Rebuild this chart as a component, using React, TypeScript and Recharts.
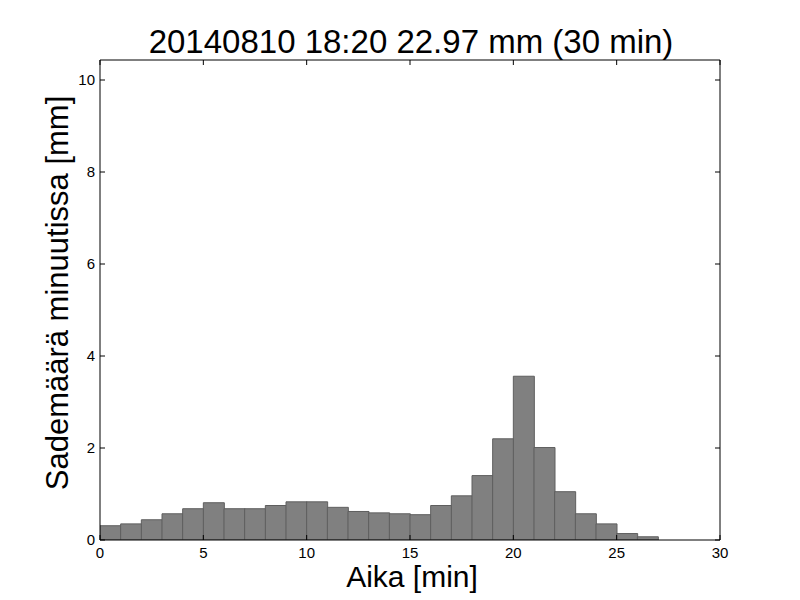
import React from 'react';
import { BarChart, Bar, XAxis, YAxis } from 'recharts';

const minutes = Array.from({ length: 30 }, (_, i) => i + 0.5);
const rain = [
  0.31, 0.35, 0.44, 0.57, 0.68, 0.81, 0.68, 0.68, 0.75, 0.83,
  0.83, 0.71, 0.62, 0.59, 0.57, 0.55, 0.75, 0.96, 1.40, 2.20,
  3.56, 2.01, 1.05, 0.57, 0.35, 0.14, 0.07, 0, 0, 0,
];
const xTicks = [0, 5, 10, 15, 20, 25, 30];
const yTicks = [0, 2, 4, 6, 8, 10];
const title = '20140810 18:20 22.97 mm (30 min)';
const xLabel = 'Aika [min]';
const yLabel = 'Sademäärä minuutissa [mm]';

const data = minutes.map((x, i) => ({ x, v: rain[i] }));

const FONT = '"Liberation Sans", Arial, sans-serif';
const TICK_LEN = 5;

const BottomTick = (p: any) => (
  <g>
    <line x1={p.x} x2={p.x} y1={p.y - 7} y2={p.y - 7 - TICK_LEN} stroke="#000" />
    <text x={p.x} y={p.y + 10.5} textAnchor="middle" fontSize={15} fontFamily={FONT} fill="#000">
      {p.payload.value}
    </text>
  </g>
);
const LeftTick = (p: any) => (
  <g>
    <line x1={p.x + 5} x2={p.x + 5 + TICK_LEN} y1={p.y} y2={p.y} stroke="#000" />
    <text x={p.x} y={p.y + 5.3} textAnchor="end" fontSize={15} fontFamily={FONT} fill="#000">
      {p.payload.value}
    </text>
  </g>
);
const TopTick = (p: any) => (
  <line x1={p.x} x2={p.x} y1={p.y} y2={p.y + TICK_LEN} stroke="#000" />
);
const RightTick = (p: any) => (
  <line x1={p.x} x2={p.x - TICK_LEN} y1={p.y} y2={p.y} stroke="#000" />
);

export default function App() {
  return (
    <div style={{ position: 'absolute', left: 0, top: 0, width: 800, height: 600, background: '#fff' }}>
      <BarChart
        width={800}
        height={600}
        data={data}
        margin={{ top: 59, right: 79, bottom: 0, left: 40 }}
        barCategoryGap={0}
        barGap={0}
      >
        <XAxis
          xAxisId="b"
          dataKey="x"
          type="number"
          domain={[0, 30]}
          ticks={xTicks}
          allowDataOverflow
          height={60}
          tickSize={0}
          tickMargin={7}
          tick={BottomTick}
          tickLine={false}
          axisLine={{ stroke: '#000' }}
          interval={0}
        />
        <XAxis
          xAxisId="t"
          dataKey="x"
          orientation="top"
          type="number"
          domain={[0, 30]}
          ticks={xTicks}
          allowDataOverflow
          height={1}
          tickSize={0}
          tickMargin={0}
          tick={TopTick}
          tickLine={false}
          axisLine={{ stroke: '#000' }}
          interval={0}
        />
        <YAxis
          yAxisId="l"
          domain={[0, 10.435]}
          ticks={yTicks}
          allowDataOverflow
          width={60}
          tickSize={0}
          tickMargin={5}
          tick={LeftTick}
          tickLine={false}
          axisLine={{ stroke: '#000' }}
          interval={0}
        />
        <YAxis
          yAxisId="r"
          orientation="right"
          domain={[0, 10.435]}
          ticks={yTicks}
          allowDataOverflow
          width={1}
          tickSize={0}
          tickMargin={0}
          tick={RightTick}
          tickLine={false}
          axisLine={{ stroke: '#000' }}
          interval={0}
        />
        <Bar
          xAxisId="b"
          yAxisId="l"
          dataKey="v"
          fill="#808080"
          stroke="#5e5e5e"
          strokeWidth={1}
          isAnimationActive={false}
        />
      </BarChart>
      <svg
        width={800}
        height={600}
        style={{ position: 'absolute', left: 0, top: 0, pointerEvents: 'none' }}
      >
        <text x={411} y={53} textAnchor="middle" fontSize={33} fontFamily={FONT} fill="#000">
          {title}
        </text>
        <text x={412} y={587} textAnchor="middle" fontSize={30} fontFamily={FONT} fill="#000">
          {xLabel}
        </text>
        <text
          x={68}
          y={293}
          textAnchor="middle"
          fontSize={31}
          fontFamily={FONT}
          fill="#000"
          transform="rotate(-90 68 293)"
        >
          {yLabel}
        </text>
      </svg>
    </div>
  );
}
